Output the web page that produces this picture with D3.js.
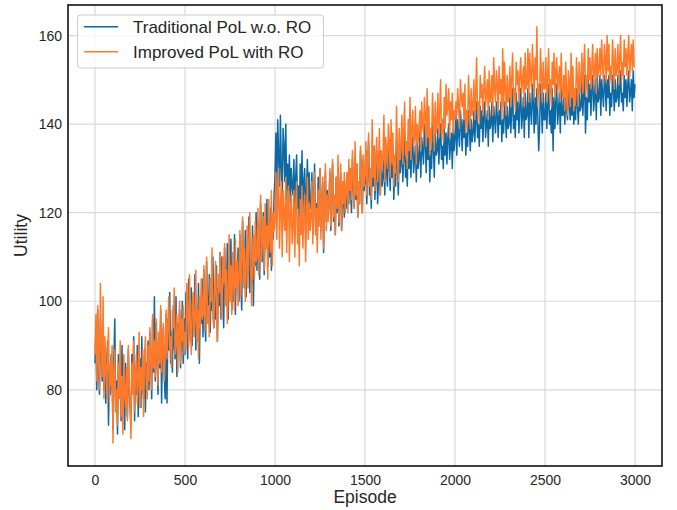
<!DOCTYPE html>
<html>
<head>
  <meta charset="utf-8">
  <script src="https://d3js.org/d3.v7.min.js"></script>
  <style>
    body { margin: 0; background: #fff; }
    svg { display: block; font-family: "Liberation Sans", Arial, sans-serif; }
  </style>
</head>
<body>
<script>
// episodes sampled every 5 steps, 0..3000
var episodes = d3.range(0, 3001, 5);

// Traditional PoL w.o. RO (blue), one row = 100 episodes
var traditional = [
  86, 93, 80, 98, 84, 79, 96, 88, 82, 94, 80, 89, 77, 86, 91, 72, 84, 79, 88, 83,
  71, 87, 96, 76, 82, 70, 88, 79, 85, 73, 90, 77, 81, 71, 86, 78, 74, 89, 80, 76,
  72, 88, 80, 92, 73, 85, 79, 90, 74, 83, 87, 76, 92, 81, 78, 89, 75, 86, 82, 91,
  80, 93, 86, 78, 96, 84, 101, 82, 95, 88, 79, 92, 85, 98, 77, 90, 94, 83, 78, 97,
  77, 96, 89, 102, 86, 93, 84, 99, 90, 87, 101, 83, 95, 91, 98, 85, 92, 100, 86, 96,
  88, 102, 94, 87, 105, 96, 91, 103, 90, 99, 94, 106, 89, 97, 92, 104, 86, 100, 95, 105,
  92, 107, 97, 91, 109, 100, 95, 106, 93, 104, 98, 110, 94, 101, 96, 108, 91, 103, 99, 111,
  96, 110, 101, 94, 112, 104, 99, 113, 96, 106, 102, 114, 98, 105, 100, 115, 97, 108, 103, 112,
  100, 115, 105, 98, 118, 107, 103, 116, 101, 110, 106, 119, 102, 109, 104, 117, 99, 112, 108, 120,
  107, 118, 111, 105, 122, 113, 109, 120, 106, 116, 112, 123, 108, 115, 110, 121, 107, 117, 114, 124,
  128, 138, 124, 141, 133, 126, 142, 130, 122, 139, 135, 127, 140, 123, 131, 125, 133, 121, 130, 126,
  124, 132, 119, 128, 133, 121, 126, 118, 131, 123, 134, 120, 127, 130, 119, 125, 132, 122, 129, 121,
  121, 129, 115, 124, 131, 117, 122, 114, 128, 119, 130, 116, 123, 127, 111, 121, 129, 118, 125, 120,
  122, 129, 116, 125, 131, 118, 123, 115, 128, 120, 130, 117, 124, 129, 116, 122, 127, 119, 126, 121,
  124, 129, 122, 130, 125, 120, 132, 127, 121, 133, 123, 131, 119, 126, 122, 134, 128, 120, 132, 125,
  127, 134, 122, 130, 136, 124, 128, 121, 133, 126, 135, 123, 129, 134, 122, 127, 132, 124, 131, 126,
  128, 132, 124, 133, 129, 126, 136, 131, 125, 134, 128, 135, 123, 130, 126, 136, 131, 124, 134, 129,
  131, 136, 127, 133, 138, 128, 132, 126, 137, 130, 136, 128, 134, 137, 129, 132, 135, 127, 136, 130,
  132, 139, 128, 137, 134, 131, 140, 136, 129, 138, 132, 139, 127, 134, 130, 140, 135, 128, 138, 133,
  134, 139, 131, 136, 140, 132, 135, 130, 139, 133, 138, 131, 137, 140, 132, 135, 138, 130, 139, 134,
  137, 142, 133, 141, 138, 135, 143, 140, 134, 141, 137, 142, 133, 138, 135, 143, 139, 134, 141, 136,
  138, 143, 136, 141, 145, 137, 140, 135, 144, 139, 143, 136, 142, 145, 137, 140, 143, 135, 144, 139,
  140, 145, 136, 144, 141, 138, 145, 142, 137, 143, 140, 145, 136, 141, 138, 145, 142, 137, 144, 139,
  140, 146, 138, 143, 148, 139, 142, 137, 147, 141, 145, 138, 144, 148, 139, 142, 146, 137, 147, 141,
  142, 148, 137, 147, 143, 140, 149, 145, 138, 146, 140, 148, 142, 134, 139, 149, 144, 138, 147, 141,
  141, 147, 139, 144, 149, 140, 143, 138, 148, 134, 146, 139, 145, 149, 140, 143, 147, 138, 148, 142,
  142, 147, 140, 146, 143, 141, 148, 145, 141, 146, 142, 147, 140, 144, 141, 148, 145, 140, 147, 143,
  144, 150, 142, 147, 151, 138, 146, 141, 150, 145, 149, 142, 148, 151, 143, 146, 150, 141, 151, 145,
  146, 151, 142, 150, 147, 144, 151, 149, 143, 150, 146, 151, 142, 147, 144, 151, 148, 143, 150, 145,
  146, 151, 144, 148, 152, 145, 147, 143, 151, 146, 150, 144, 149, 152, 145, 147, 150, 143, 152, 146,
  149
];

// Improved PoL with RO (orange)
var improved = [
  88, 97, 82, 99, 86, 80, 104, 90, 83, 101, 78, 92, 85, 79, 88, 94, 77, 86, 81, 90,
  68, 84, 89, 75, 80, 72, 86, 78, 91, 74, 83, 70, 88, 79, 76, 85, 73, 90, 81, 77,
  69, 86, 79, 91, 75, 84, 88, 77, 82, 93, 76, 85, 80, 89, 74, 87, 92, 81, 78, 90,
  82, 94, 87, 80, 97, 85, 91, 83, 96, 89, 81, 93, 86, 99, 84, 90, 95, 82, 88, 98,
  87, 95, 101, 89, 92, 85, 98, 94, 103, 88, 90, 97, 84, 93, 100, 86, 96, 91, 99, 88,
  93, 89, 104, 97, 90, 106, 95, 88, 99, 102, 92, 96, 107, 91, 98, 87, 101, 94, 105, 96,
  97, 108, 93, 101, 110, 95, 99, 92, 105, 100, 112, 96, 94, 103, 109, 98, 91, 106, 102, 111,
  101, 96, 110, 104, 113, 99, 107, 95, 102, 115, 100, 108, 97, 111, 105, 98, 114, 103, 109, 99,
  106, 116, 101, 110, 119, 104, 112, 100, 108, 117, 103, 114, 120, 107, 99, 111, 115, 105, 118, 109,
  110, 121, 106, 116, 124, 109, 114, 119, 107, 122, 112, 117, 105, 123, 115, 111, 125, 108, 120, 116,
  118, 129, 114, 124, 130, 112, 121, 127, 110, 125, 119, 116, 128, 111, 122, 126, 109, 120, 124, 113,
  117, 125, 110, 121, 127, 113, 119, 108, 123, 115, 126, 112, 120, 124, 109, 118, 128, 114, 122, 116,
  119, 127, 113, 123, 129, 115, 121, 111, 125, 117, 130, 114, 122, 128, 112, 120, 131, 116, 124, 118,
  123, 130, 117, 126, 132, 119, 124, 115, 128, 121, 133, 118, 125, 131, 116, 127, 122, 129, 120, 126,
  129, 120, 132, 125, 130, 123, 134, 128, 121, 136, 124, 131, 119, 127, 122, 135, 129, 120, 133, 126,
  129, 136, 124, 132, 138, 126, 130, 123, 141, 128, 135, 125, 133, 137, 127, 131, 139, 124, 134, 130,
  133, 142, 127, 137, 134, 130, 140, 136, 128, 141, 131, 138, 126, 133, 129, 144, 135, 127, 139, 132,
  135, 142, 131, 138, 145, 133, 136, 130, 141, 134, 146, 132, 139, 143, 135, 137, 144, 131, 140, 136,
  139, 143, 134, 145, 140, 138, 146, 142, 135, 148, 137, 144, 133, 139, 136, 147, 141, 134, 145, 138,
  140, 147, 137, 143, 150, 138, 141, 136, 146, 139, 149, 142, 144, 148, 137, 145, 141, 147, 138, 143,
  141, 145, 142, 148, 144, 139, 150, 146, 144, 147, 141, 149, 138, 143, 140, 151, 145, 139, 148, 142,
  144, 150, 141, 147, 155, 143, 145, 140, 151, 146, 149, 142, 148, 153, 144, 147, 150, 141, 152, 145,
  146, 151, 142, 155, 148, 145, 152, 149, 143, 153, 147, 150, 141, 157, 144, 154, 148, 142, 151, 145,
  147, 153, 144, 150, 156, 146, 148, 143, 154, 149, 152, 145, 151, 155, 147, 150, 153, 144, 156, 148,
  149, 157, 145, 156, 151, 148, 158, 152, 146, 155, 150, 162, 144, 149, 147, 157, 151, 145, 154, 148,
  148, 155, 145, 151, 157, 147, 150, 144, 154, 149, 156, 146, 152, 155, 147, 150, 153, 145, 156, 148,
  146, 151, 143, 154, 147, 142, 152, 149, 144, 156, 146, 153, 143, 148, 145, 155, 150, 144, 154, 147,
  150, 156, 147, 153, 158, 148, 151, 146, 157, 150, 155, 148, 153, 158, 149, 152, 156, 147, 157, 151,
  152, 157, 151, 159, 153, 149, 158, 155, 150, 160, 152, 158, 149, 153, 150, 159, 154, 148, 157, 151,
  152, 158, 149, 155, 160, 151, 154, 150, 159, 153, 157, 151, 156, 160, 150, 155, 158, 152, 159, 153,
  153
];

var xTicks = [0, 500, 1000, 1500, 2000, 2500, 3000];
var yTicks = [80, 100, 120, 140, 160];
var seriesNames = ["Traditional PoL w.o. RO", "Improved PoL with RO"];
var colors = ["#0b69a6", "#fe7a2a"];

var width = 677, height = 510;
var margin = {top: 5, right: 15, bottom: 44, left: 68};

var svg = d3.select("body").append("svg")
    .attr("width", width)
    .attr("height", height);

var x = d3.scaleLinear().domain([-150, 3150]).range([margin.left, width - margin.right]);
var y = d3.scaleLinear().domain([62.8, 166.9]).range([height - margin.bottom, margin.top]);

// grid
svg.append("g").selectAll("line").data(xTicks).enter().append("line")
    .attr("x1", d => x(d)).attr("x2", d => x(d))
    .attr("y1", margin.top).attr("y2", height - margin.bottom)
    .attr("stroke", "#d9d9d9").attr("stroke-width", 1.2);
svg.append("g").selectAll("line").data(yTicks).enter().append("line")
    .attr("x1", margin.left).attr("x2", width - margin.right)
    .attr("y1", d => y(d)).attr("y2", d => y(d))
    .attr("stroke", "#d9d9d9").attr("stroke-width", 1.2);

// lines
var line = d3.line()
    .defined((d, i) => episodes[i] !== undefined)
    .x((d, i) => x(episodes[i]))
    .y(d => y(d));

[traditional, improved].forEach(function (s, k) {
  svg.append("path")
      .datum(s)
      .attr("fill", "none")
      .attr("stroke", colors[k])
      .attr("stroke-width", 1.5)
      .attr("stroke-linejoin", "round")
      .attr("d", line);
});

// axes
var xAxis = svg.append("g")
    .attr("transform", "translate(0," + (height - margin.bottom) + ")")
    .call(d3.axisBottom(x).tickValues(xTicks).tickFormat(d3.format("d")).tickSize(0).tickPadding(9));
var yAxis = svg.append("g")
    .attr("transform", "translate(" + margin.left + ",0)")
    .call(d3.axisLeft(y).tickValues(yTicks).tickFormat(d3.format("d")).tickSize(0).tickPadding(6));
[xAxis, yAxis].forEach(function (a) {
  a.select(".domain").remove();
  a.selectAll("text")
      .attr("fill", "#262626")
      .style("font-size", "14px")
      .style("font-family", "Liberation Sans, Arial, sans-serif");
});

// frame
svg.append("rect")
    .attr("x", margin.left).attr("y", margin.top)
    .attr("width", width - margin.left - margin.right)
    .attr("height", height - margin.top - margin.bottom)
    .attr("fill", "none")
    .attr("stroke", "#111")
    .attr("stroke-width", 1.6);

// axis labels
svg.append("text")
    .attr("x", (margin.left + width - margin.right) / 2)
    .attr("y", 503)
    .attr("text-anchor", "middle")
    .attr("fill", "#262626")
    .style("font-size", "17.5px")
    .text("Episode");
svg.append("text")
    .attr("transform", "translate(27," + ((margin.top + height - margin.bottom) / 2) + ") rotate(-90)")
    .attr("text-anchor", "middle")
    .attr("fill", "#262626")
    .style("font-size", "17.5px")
    .text("Utility");

// legend
var legend = svg.append("g");
legend.append("rect")
    .attr("x", 77.5).attr("y", 15)
    .attr("width", 246).attr("height", 53)
    .attr("rx", 3)
    .attr("fill", "#fff").attr("fill-opacity", 0.8)
    .attr("stroke", "#cccccc");
seriesNames.forEach(function (name, i) {
  var ly = 26.7 + i * 25;
  legend.append("line")
      .attr("x1", 84).attr("x2", 118)
      .attr("y1", ly).attr("y2", ly)
      .attr("stroke", colors[i]).attr("stroke-width", 1.5);
  legend.append("text")
      .attr("x", 133).attr("y", ly + 6)
      .attr("fill", "#262626")
      .style("font-size", "17px")
      .text(name);
});
</script>
</body>
</html>
